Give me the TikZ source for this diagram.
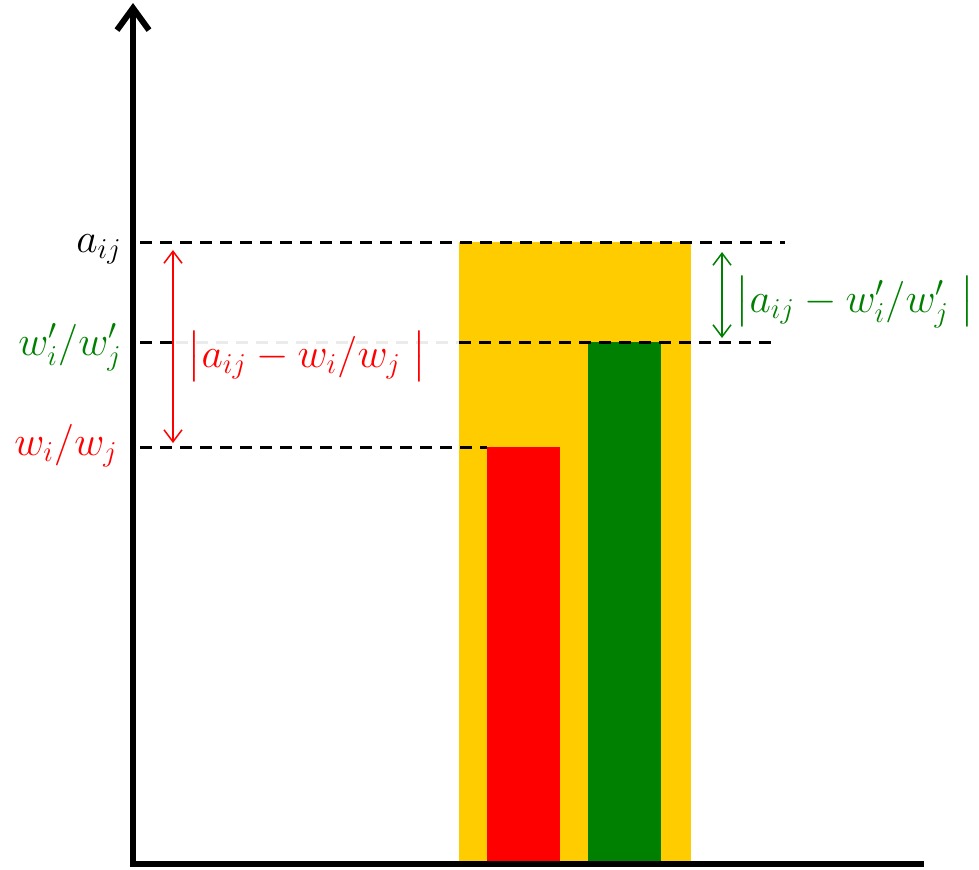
\documentclass[tikz,border=0pt]{standalone}
\usepackage{amsmath}
\usetikzlibrary{arrows.meta}
\definecolor{gold}{RGB}{255,204,0}
\definecolor{dgreen}{RGB}{0,128,0}
\tikzset{
  level/.style={line width=1.5pt,dash pattern=on 6pt off 4pt},
  gap/.style={line width=0.75pt,{Straight Barb[length=6pt,width=9pt]}-{Straight Barb[length=6pt,width=9pt]}},
  lbl/.style={inner sep=0pt,font=\fontsize{20}{24}\selectfont}
}
\begin{document}
\begin{tikzpicture}[x=0.5pt,y=-0.5pt]
	\useasboundingbox (0,0) rectangle (979,869);
	% bars
	\fill[gold] (459,242) rectangle (691,862);
	\fill[red] (487,447) rectangle (560,862);
	\fill[dgreen] (588,342) rectangle (661,862);

	% axes
	\draw (133,865) coordinate (o);
	\draw (133,3) coordinate (top);
	\draw (924,864) coordinate (right);
	\draw[line width=3pt,-{Straight Barb[length=11pt,width=16pt]}] (o)--(top);
	\draw[line width=3pt] (130,864)--(right);

	% levels
	\draw (122,252) node (a)[lbl,anchor=base east]{$a_{ij}$};
	\draw (122,355) node (wp)[lbl,anchor=base east,text=dgreen]{$w'_i/w'_j$};
	\draw (118,455) node (w)[lbl,anchor=base east,text=red]{$w_i/w_j$};
	\draw (140,242) coordinate (a1);
	\draw (785,242) coordinate (a2);
	\draw (140,342) coordinate (wp1);
	\draw (176,342) coordinate (wp2);
	\draw (459,342) coordinate (wp3);
	\draw (775,342) coordinate (wp4);
	\draw (140,447) coordinate (w1);
	\draw (487,447) coordinate (w2);
	\draw[level] (a1)--(a2);
	\draw[level] (wp1)--(wp2);
	\draw[level,black!8] (wp2)--(wp3);
	\draw[level] (wp3)--(wp4);
	\draw[level] (w1)--(w2);

	% differences
	\draw (173,250) coordinate (r1);
	\draw (173,443) coordinate (r2);
	\draw (722,252) coordinate (g1);
	\draw (722,338) coordinate (g2);
	\draw[gap,red] (r1)--(r2);
	\draw[gap,dgreen] (g1)--(g2);
	\draw (307,367) node (dr)[lbl,anchor=base,text=red]{$\big|a_{ij}-w_i/w_j\;\big|$};
	\draw (855,312) node (dg)[lbl,anchor=base,text=dgreen]{$\big|a_{ij}-w'_i/w'_j\;\big|$};
\end{tikzpicture}
\end{document}
